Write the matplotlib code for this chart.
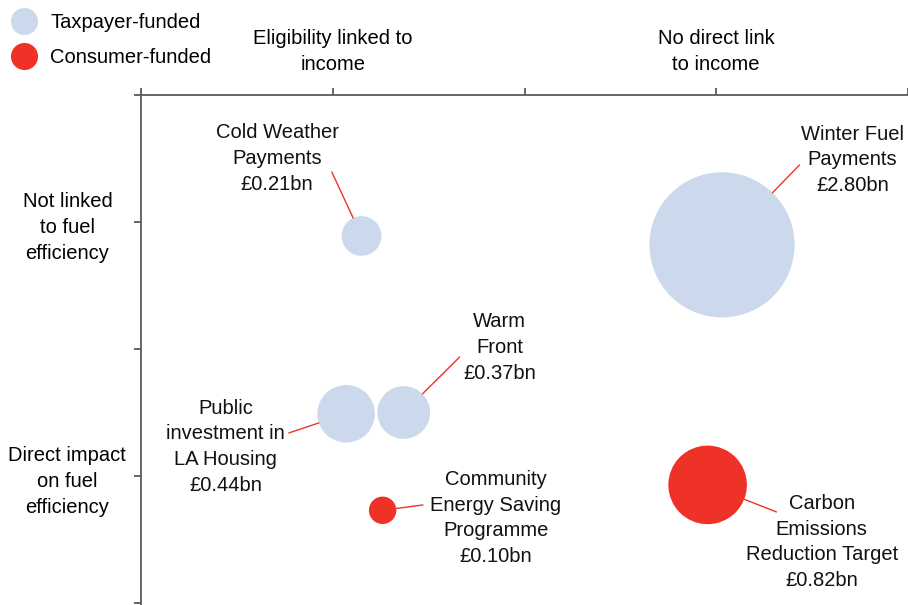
import matplotlib.pyplot as plt
from matplotlib.lines import Line2D
import numpy as np

plt.rcParams['font.family'] = ['Liberation Sans', 'DejaVu Sans']

# scheme data
names = ['Cold Weather\nPayments', 'Winter Fuel\nPayments', 'Public\ninvestment in\nLA Housing',
         'Warm\nFront', 'Community\nEnergy Saving\nProgramme', 'Carbon\nEmissions\nReduction Target']
spend_bn = [0.21, 2.80, 0.44, 0.37, 0.10, 0.82]
income_pos = [1.15, 3.03, 1.07, 1.37, 1.26, 2.955]   # 1 = linked to income, 3 = no link
fuel_pos = [1.11, 1.18, 2.51, 2.50, 3.27, 3.07]      # 1 = not linked, 3 = direct impact
funding = ['tax', 'tax', 'tax', 'tax', 'consumer', 'consumer']

x_labels = ['', 'Eligibility linked to\nincome', '', 'No direct link\nto income', '']
y_labels = ['', 'Not linked\nto fuel\nefficiency', '', 'Direct impact\non fuel\nefficiency', '']

# label placement (block centre) and leader start point
label_xy = [(0.71, 0.50), (3.71, 0.51), (0.44, 2.77), (1.87, 1.99), (1.85, 3.33), (3.55, 3.52)]
leader_xy = [(0.995, 0.606), (3.434, 0.551), (0.771, 2.661), (1.662, 2.063), (1.470, 3.228), (3.314, 3.283)]

blue = '#CCD9EC'
red = '#EE3227'
axis_col = '#5a5a5a'
colors = {'tax': blue, 'consumer': red}
k = 3900  # marker area (pt^2) per £bn
fs = 14.5
ls = 1.45

fig = plt.figure(figsize=(9.08, 6.05), dpi=100)
ax = fig.add_axes([141 / 908, 0, 1 - 141 / 908, 510 / 605])

sizes = [k * v for v in spend_bn]
ax.scatter(income_pos, fuel_pos, s=sizes, c=[colors[f] for f in funding], linewidths=0, zorder=3)

for i in range(len(names)):
    r_pt = np.sqrt(sizes[i]) / 2
    ax.annotate('', xy=(income_pos[i], fuel_pos[i]), xytext=leader_xy[i],
                arrowprops=dict(arrowstyle='-', color=red, lw=1.0, shrinkA=0, shrinkB=r_pt))
    ax.text(label_xy[i][0], label_xy[i][1], names[i] + '\n£%.2fbn' % spend_bn[i],
            ha='center', va='center', fontsize=fs, linespacing=ls, color='#111111')

ax.set_xlim(0, 4)
ax.set_ylim(510 / 127, 0)
ax.xaxis.tick_top()
ax.set_xticks(range(5))
ax.set_xticklabels(x_labels, fontsize=fs, linespacing=ls)
ax.set_yticks(range(5))
ax.set_yticklabels(y_labels, fontsize=fs, linespacing=ls, ha='center')
ax.tick_params(axis='x', direction='out', length=5, width=1.3, color=axis_col, pad=10)
ax.tick_params(axis='y', direction='out', length=5, width=1.3, color=axis_col, pad=48)
for sp in ['right', 'bottom']:
    ax.spines[sp].set_visible(False)
for sp in ['top', 'left']:
    ax.spines[sp].set_color(axis_col)
    ax.spines[sp].set_linewidth(1.3)

handles = [Line2D([], [], marker='o', ls='', markersize=19.5, markerfacecolor=blue, markeredgewidth=0),
           Line2D([], [], marker='o', ls='', markersize=19.5, markerfacecolor=red, markeredgewidth=0)]
fig.legend(handles, ['Taxpayer-funded', 'Consumer-funded'], loc='upper left',
           bbox_to_anchor=(0.0, 0.985), frameon=False, fontsize=fs,
           handletextpad=0.3, labelspacing=0.8, borderpad=0.2, borderaxespad=0)

fig.savefig('out.png', dpi=100)
